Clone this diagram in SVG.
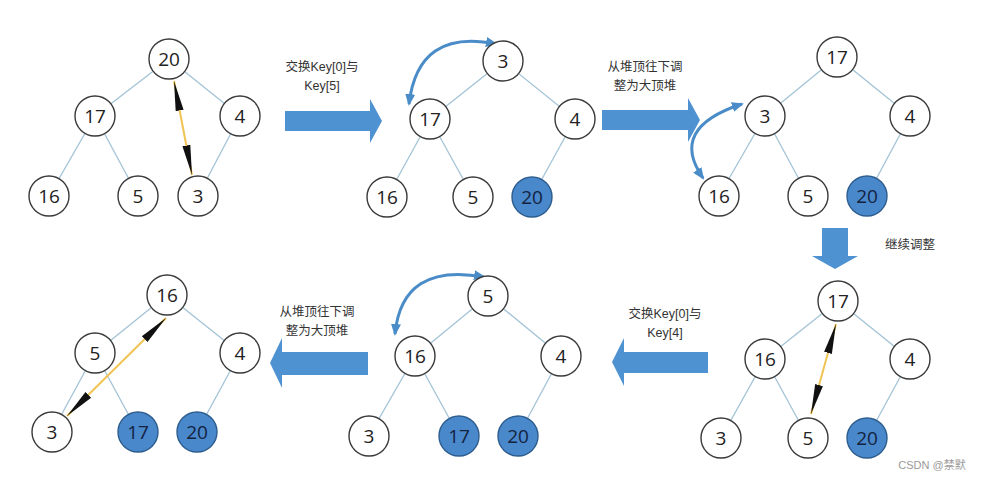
<svg xmlns="http://www.w3.org/2000/svg" width="981" height="480" viewBox="0 0 981 480">
<style>
.e{stroke:#a3c3d6;stroke-width:1.3;fill:none}
.n circle{fill:#fff;stroke:#3a3a3a;stroke-width:1.4}
.n.f circle{fill:#4a88cc;stroke:#2d5d8e}
.n text{font-family:"Open Sans","Liberation Sans",sans-serif;font-size:19px;fill:#222;text-anchor:middle;dominant-baseline:central}
.n.f text{fill:#13233f}
.lbl{font-family:"Liberation Sans","Noto Sans CJK SC",sans-serif;font-size:12.5px;fill:#333;text-anchor:middle}
.big{fill:#4f92d2}
.sw{stroke:#f0c453;stroke-width:2;fill:none;marker-start:url(#bk);marker-end:url(#bk)}
.cv{stroke:#4a8cc8;stroke-width:3;fill:none;marker-start:url(#bl);marker-end:url(#bl)}
</style>
<defs>
<marker id="bk" viewBox="0 0 30 10" refX="30" refY="5" markerWidth="30" markerHeight="10" markerUnits="userSpaceOnUse" orient="auto-start-reverse">
<path d="M0,1 L30,5 L0,9 Z" fill="#111"/>
</marker>
<marker id="bl" viewBox="0 0 12 10" refX="10" refY="5" markerWidth="12" markerHeight="10" markerUnits="userSpaceOnUse" orient="auto-start-reverse">
<path d="M0,0 L12,5 L0,10 Z" fill="#4a8cc8"/>
</marker>
</defs>
<rect width="981" height="480" fill="#fff"/>

<g id="connectors">
<line class="e" x1="169" y1="59" x2="95" y2="116"/>
<line class="e" x1="169" y1="59" x2="240" y2="116"/>
<line class="e" x1="95" y1="116" x2="49" y2="196"/>
<line class="e" x1="95" y1="116" x2="138" y2="196"/>
<line class="e" x1="240" y1="116" x2="198" y2="196"/>
<line class="e" x1="503" y1="61" x2="430" y2="119"/>
<line class="e" x1="503" y1="61" x2="575" y2="119"/>
<line class="e" x1="430" y1="119" x2="387" y2="197"/>
<line class="e" x1="430" y1="119" x2="473" y2="197"/>
<line class="e" x1="575" y1="119" x2="532" y2="197"/>
<line class="e" x1="837" y1="57" x2="765" y2="116"/>
<line class="e" x1="837" y1="57" x2="910" y2="116"/>
<line class="e" x1="765" y1="116" x2="719" y2="196"/>
<line class="e" x1="765" y1="116" x2="808" y2="196"/>
<line class="e" x1="910" y1="116" x2="867" y2="196"/>
<line class="e" x1="838" y1="301" x2="765" y2="359"/>
<line class="e" x1="838" y1="301" x2="910" y2="359"/>
<line class="e" x1="765" y1="359" x2="721" y2="438"/>
<line class="e" x1="765" y1="359" x2="808" y2="438"/>
<line class="e" x1="910" y1="359" x2="867" y2="438"/>
<line class="e" x1="488" y1="296" x2="415" y2="356"/>
<line class="e" x1="488" y1="296" x2="561" y2="356"/>
<line class="e" x1="415" y1="356" x2="369" y2="436"/>
<line class="e" x1="415" y1="356" x2="459" y2="436"/>
<line class="e" x1="561" y1="356" x2="518" y2="436"/>
<line class="e" x1="167" y1="295" x2="95" y2="353"/>
<line class="e" x1="167" y1="295" x2="240" y2="353"/>
<line class="e" x1="95" y1="353" x2="52" y2="432"/>
<line class="e" x1="95" y1="353" x2="138" y2="432"/>
<line class="e" x1="240" y1="353" x2="197" y2="432"/>
<line class="sw" x1="174" y1="81" x2="192" y2="175"/>
<line class="sw" x1="836" y1="324" x2="811" y2="414"/>
<line class="sw" x1="166" y1="318" x2="67" y2="416"/>
<path class="cv" d="M409,104 Q418,28 496,44"/>
<path class="cv" d="M703,178 Q668,128 742,104"/>
<path class="cv" d="M395,334 Q402,262 484,277"/>
</g>

<g id="n1_20" class="n"><circle cx="169" cy="59" r="20"/><text x="169" y="59">20</text></g>
<g id="n1_17" class="n"><circle cx="95" cy="116" r="20"/><text x="95" y="116">17</text></g>
<g id="n1_4" class="n"><circle cx="240" cy="116" r="20"/><text x="240" y="116">4</text></g>
<g id="n1_16" class="n"><circle cx="49" cy="196" r="20"/><text x="49" y="196">16</text></g>
<g id="n1_5" class="n"><circle cx="138" cy="196" r="20"/><text x="138" y="196">5</text></g>
<g id="n1_3" class="n"><circle cx="198" cy="196" r="20"/><text x="198" y="196">3</text></g>

<g id="n2_3" class="n"><circle cx="503" cy="61" r="20"/><text x="503" y="61">3</text></g>
<g id="n2_17" class="n"><circle cx="430" cy="119" r="20"/><text x="430" y="119">17</text></g>
<g id="n2_4" class="n"><circle cx="575" cy="119" r="20"/><text x="575" y="119">4</text></g>
<g id="n2_16" class="n"><circle cx="387" cy="197" r="20"/><text x="387" y="197">16</text></g>
<g id="n2_5" class="n"><circle cx="473" cy="197" r="20"/><text x="473" y="197">5</text></g>
<g id="n2_20" class="n f"><circle cx="532" cy="197" r="20"/><text x="532" y="197">20</text></g>

<g id="n3_17" class="n"><circle cx="837" cy="57" r="20"/><text x="837" y="57">17</text></g>
<g id="n3_3" class="n"><circle cx="765" cy="116" r="20"/><text x="765" y="116">3</text></g>
<g id="n3_4" class="n"><circle cx="910" cy="116" r="20"/><text x="910" y="116">4</text></g>
<g id="n3_16" class="n"><circle cx="719" cy="196" r="20"/><text x="719" y="196">16</text></g>
<g id="n3_5" class="n"><circle cx="808" cy="196" r="20"/><text x="808" y="196">5</text></g>
<g id="n3_20" class="n f"><circle cx="867" cy="196" r="20"/><text x="867" y="196">20</text></g>

<g id="n4_17" class="n"><circle cx="838" cy="301" r="20"/><text x="838" y="301">17</text></g>
<g id="n4_16" class="n"><circle cx="765" cy="359" r="20"/><text x="765" y="359">16</text></g>
<g id="n4_4" class="n"><circle cx="910" cy="359" r="20"/><text x="910" y="359">4</text></g>
<g id="n4_3" class="n"><circle cx="721" cy="438" r="20"/><text x="721" y="438">3</text></g>
<g id="n4_5" class="n"><circle cx="808" cy="438" r="20"/><text x="808" y="438">5</text></g>
<g id="n4_20" class="n f"><circle cx="867" cy="438" r="20"/><text x="867" y="438">20</text></g>

<g id="n5_5" class="n"><circle cx="488" cy="296" r="20"/><text x="488" y="296">5</text></g>
<g id="n5_16" class="n"><circle cx="415" cy="356" r="20"/><text x="415" y="356">16</text></g>
<g id="n5_4" class="n"><circle cx="561" cy="356" r="20"/><text x="561" y="356">4</text></g>
<g id="n5_3" class="n"><circle cx="369" cy="436" r="20"/><text x="369" y="436">3</text></g>
<g id="n5_17" class="n f"><circle cx="459" cy="436" r="20"/><text x="459" y="436">17</text></g>
<g id="n5_20" class="n f"><circle cx="518" cy="436" r="20"/><text x="518" y="436">20</text></g>

<g id="n6_16" class="n"><circle cx="167" cy="295" r="20"/><text x="167" y="295">16</text></g>
<g id="n6_5" class="n"><circle cx="95" cy="353" r="20"/><text x="95" y="353">5</text></g>
<g id="n6_4" class="n"><circle cx="240" cy="353" r="20"/><text x="240" y="353">4</text></g>
<g id="n6_3" class="n"><circle cx="52" cy="432" r="20"/><text x="52" y="432">3</text></g>
<g id="n6_17" class="n f"><circle cx="138" cy="432" r="20"/><text x="138" y="432">17</text></g>
<g id="n6_20" class="n f"><circle cx="197" cy="432" r="20"/><text x="197" y="432">20</text></g>

<g id="step1">
<polygon class="big" points="285,111 370,111 370,99 382,121 370,143 370,131 285,131"/>
<text class="lbl" x="322" y="71">交换Key[0]与</text>
<text class="lbl" x="322" y="90">Key[5]</text>
</g>
<g id="step2">
<polygon class="big" points="602,110 688,110 688,98 700,120 688,142 688,130 602,130"/>
<text class="lbl" x="645" y="71">从堆顶往下调</text>
<text class="lbl" x="645" y="90">整为大顶堆</text>
</g>
<g id="step3">
<polygon class="big" points="822,228 848,228 848,256 858,256 835,269 812,256 822,256"/>
<text class="lbl" x="910" y="249">继续调整</text>
</g>
<g id="step4">
<polygon class="big" points="708,352 624,352 624,338 612,362 624,386 624,373 708,373"/>
<text class="lbl" x="665" y="318">交换Key[0]与</text>
<text class="lbl" x="665" y="337">Key[4]</text>
</g>
<g id="step5">
<polygon class="big" points="368,352 282,352 282,338 270,363 282,388 282,375 368,375"/>
<text class="lbl" x="317" y="316">从堆顶往下调</text>
<text class="lbl" x="317" y="335">整为大顶堆</text>
</g>
<text x="932" y="469" style="font-family:'Liberation Sans','Noto Sans CJK SC',sans-serif;font-size:11px;fill:#9a9a9a;text-anchor:middle">CSDN @禁默</text>
</svg>
